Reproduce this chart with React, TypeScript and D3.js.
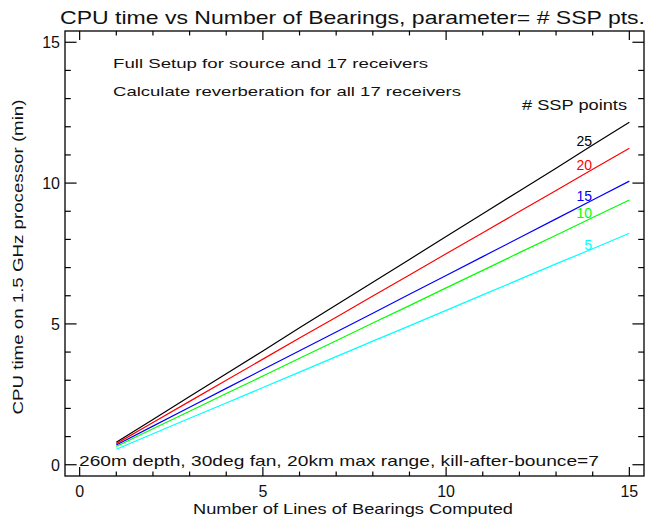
import React from "react";
import * as d3 from "d3";

const bearings = [1, 2, 3, 4, 5, 6, 7, 8, 9, 10, 11, 12, 13, 14, 15];
const ssp25 = [0.8, 1.61, 2.42, 3.23, 4.04, 4.86, 5.67, 6.48, 7.29, 8.1, 8.91, 9.72, 10.53, 11.35, 12.16];
const ssp20 = [0.75, 1.5, 2.25, 3.0, 3.75, 4.5, 5.24, 5.99, 6.74, 7.49, 8.24, 8.99, 9.74, 10.49, 11.24];
const ssp15 = [0.7, 1.37, 2.04, 2.71, 3.38, 4.05, 4.71, 5.38, 6.05, 6.72, 7.39, 8.06, 8.73, 9.4, 10.07];
const ssp10 = [0.65, 1.28, 1.9, 2.53, 3.15, 3.78, 4.4, 5.03, 5.65, 6.28, 6.9, 7.53, 8.15, 8.78, 9.4];
const ssp5 = [0.55, 1.1, 1.65, 2.19, 2.74, 3.29, 3.84, 4.39, 4.93, 5.48, 6.03, 6.58, 7.13, 7.67, 8.22];
const seriesLabels = ["25", "20", "15", "10", "5"];
const seriesColors = ["#000000", "#ff0000", "#0000ff", "#00ff00", "#00ffff"];
const majorTicks = [0, 5, 10, 15];
const minorTicks = [0, 1, 2, 3, 4, 5, 6, 7, 8, 9, 10, 11, 12, 13, 14, 15];

const W = 647;
const H = 523;
const L = 65, R = 644, T = 31, B = 476;
const FONT = "'Liberation Sans', Arial, sans-serif";

export default function App() {
  const x = d3.scaleLinear().domain([-0.4, 15.4]).range([L, R]);
  const y = d3.scaleLinear().domain([-0.4, 15.4]).range([B, T]);
  const allSeries = [ssp25, ssp20, ssp15, ssp10, ssp5];
  const line = d3
    .line<number>()
    .x((_, i) => x(bearings[i]))
    .y((d) => y(d));

  const xMaj = 0.02 * (B - T);
  const yMaj = 0.02 * (R - L);
  const labelBaselines = [146, 170, 201, 218, 250];

  return (
    <svg
      width={W}
      height={H}
      style={{ position: "absolute", left: 0, top: 0, background: "#fff" }}
      fontFamily={FONT}
    >
      <rect x={0} y={0} width={W} height={H} fill="#fff" />
      <text x={60} y={24} fontSize={19} textLength={585} lengthAdjust="spacingAndGlyphs" fill="#111">
        CPU time vs Number of Bearings, parameter= # SSP pts.
      </text>

      <rect x={L} y={T} width={R - L} height={B - T} fill="none" stroke="#000" strokeWidth={1.3} />

      {minorTicks.map((t) => {
        const len = majorTicks.includes(t) ? xMaj : xMaj / 2;
        return (
          <g key={"xt" + t} stroke="#000" strokeWidth={1.2}>
            <line x1={x(t)} x2={x(t)} y1={B} y2={B - len} />
            <line x1={x(t)} x2={x(t)} y1={T} y2={T + len} />
          </g>
        );
      })}
      {minorTicks.map((t) => {
        const len = majorTicks.includes(t) ? yMaj : yMaj / 2;
        return (
          <g key={"yt" + t} stroke="#000" strokeWidth={1.2}>
            <line x1={L} x2={L + len} y1={y(t)} y2={y(t)} />
            <line x1={R} x2={R - len} y1={y(t)} y2={y(t)} />
          </g>
        );
      })}
      {majorTicks.map((t) => (
        <text key={"xl" + t} x={x(t)} y={497} fontSize={16} textAnchor="middle" fill="#111">
          {t}
        </text>
      ))}
      {majorTicks.map((t) => (
        <text key={"yl" + t} x={60} y={y(t) + 6} fontSize={16} textAnchor="end" fill="#111">
          {t}
        </text>
      ))}

      <text x={193} y={514} fontSize={15} textLength={320} lengthAdjust="spacingAndGlyphs" fill="#111">
        Number of Lines of Bearings Computed
      </text>
      <text
        transform={`translate(23,${257}) rotate(-90)`}
        fontSize={14}
        textAnchor="middle"
        textLength={315}
        lengthAdjust="spacingAndGlyphs"
        fill="#111"
      >
        CPU time on 1.5 GHz processor (min)
      </text>

      <text x={113} y={68} fontSize={13.5} textLength={315} lengthAdjust="spacingAndGlyphs" fill="#111">
        Full Setup for source and 17 receivers
      </text>
      <text x={113} y={96} fontSize={13.5} textLength={348} lengthAdjust="spacingAndGlyphs" fill="#111">
        Calculate reverberation for all 17 receivers
      </text>
      <text x={522} y={110} fontSize={14} textLength={105} lengthAdjust="spacingAndGlyphs" fill="#111">
        # SSP points
      </text>
      <text x={79} y={466} fontSize={14.5} textLength={520} lengthAdjust="spacingAndGlyphs" fill="#111">
        260m depth, 30deg fan, 20km max range, kill-after-bounce=7
      </text>

      {allSeries.map((s, i) => (
        <path key={"s" + i} d={line(s) || ""} fill="none" stroke={seriesColors[i]} strokeWidth={1.2} />
      ))}
      {seriesLabels.map((lab, i) => (
        <text key={"lab" + i} x={592} y={labelBaselines[i]} fontSize={14} textAnchor="end" fill={seriesColors[i]}>
          {lab}
        </text>
      ))}
    </svg>
  );
}
